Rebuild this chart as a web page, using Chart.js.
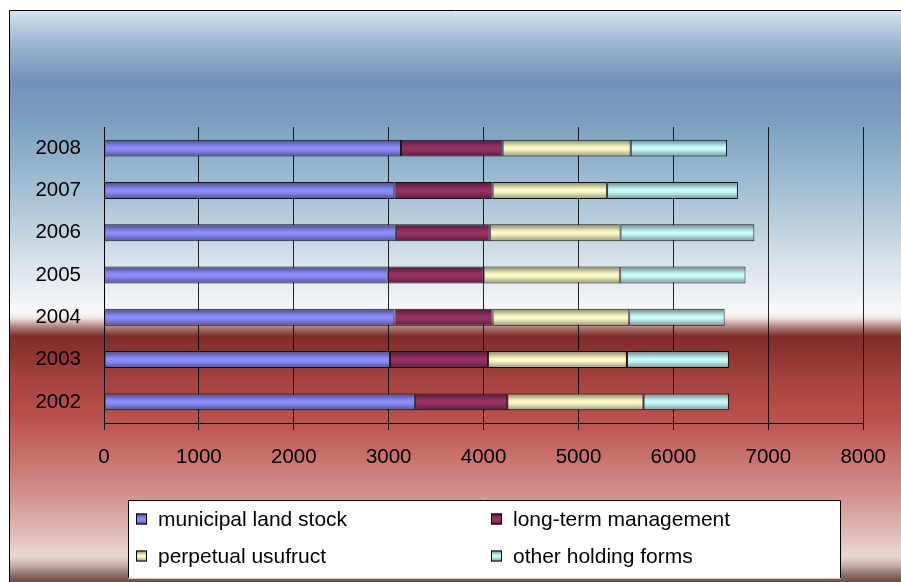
<!DOCTYPE html>
<html>
<head>
<meta charset="utf-8">
<script src="https://cdn.jsdelivr.net/npm/chart.js@4/dist/chart.umd.min.js"></script>
<style>
  html, body { margin: 0; padding: 0; background: #ffffff; }
  #wrap { position: relative; width: 901px; height: 582px; }
  canvas { display: block; }
</style>
</head>
<body>
<div id="wrap"><canvas id="chart" width="901" height="582"></canvas></div>
<script>
// Land holding structure by year (stacked)
const years = ['2002', '2003', '2004', '2005', '2006', '2007', '2008'];
const municipalLandStock = [3280, 3015, 3060, 2990, 3075, 3060, 3130];
const longTermManagement = [970, 1030, 1035, 1010, 990, 1035, 1070];
const perpetualUsufruct = [1435, 1465, 1440, 1440, 1378, 1207, 1350];
const otherHoldingForms = [900, 1075, 1005, 1320, 1410, 1378, 1015];

const seriesNames = ['municipal land stock', 'long-term management', 'perpetual usufruct', 'other holding forms'];
const seriesColors = [[143, 143, 255], [153, 51, 102], [255, 255, 204], [204, 255, 255]];
const xTicks = [0, 1000, 2000, 3000, 4000, 5000, 6000, 7000, 8000];

const FONT = '"Liberation Sans", Arial, Helvetica, sans-serif';
const BAR_PCT = 0.40;

function shade(rgb, k) {
  return 'rgb(' + rgb.map(v => Math.round(v * k)).join(',') + ')';
}

// cylinder-like shading across the bar thickness
function tubeGradient(ctx2d, rgb, top, bottom) {
  const g = ctx2d.createLinearGradient(0, top, 0, bottom);
  g.addColorStop(0.00, shade(rgb, 0.55));
  g.addColorStop(0.18, shade(rgb, 0.70));
  g.addColorStop(0.35, shade(rgb, 0.90));
  g.addColorStop(0.50, shade(rgb, 1.00));
  g.addColorStop(0.65, shade(rgb, 0.92));
  g.addColorStop(0.82, shade(rgb, 0.75));
  g.addColorStop(1.00, shade(rgb, 0.60));
  return g;
}

function barFill(rgb) {
  return function (ctx) {
    const chart = ctx.chart;
    const ys = chart.scales && chart.scales.y;
    if (!ys || ctx.type !== 'data' || !isFinite(ys.height) || ys.height <= 0) {
      return shade(rgb, 1);
    }
    const c = ys.getPixelForValue(ctx.dataIndex);
    const h = ys.height / years.length * BAR_PCT;
    return tubeGradient(chart.ctx, rgb, c - h / 2, c + h / 2);
  };
}

const seriesValues = [municipalLandStock, longTermManagement, perpetualUsufruct, otherHoldingForms];

const datasets = seriesValues.map((vals, i) => ({
  label: seriesNames[i],
  data: vals,
  backgroundColor: barFill(seriesColors[i]),
  borderColor: 'rgba(0,0,0,0.9)',
  borderWidth: 1,
  borderSkipped: false,
  barPercentage: BAR_PCT,
  categoryPercentage: 1.0
}));

// frame background with the blue / white / red banding
const backdrop = {
  id: 'backdrop',
  beforeDraw(chart) {
    const c = chart.ctx;
    const x0 = 9, y0 = 10, x1 = chart.width, y1 = chart.height;
    c.save();
    const g = c.createLinearGradient(0, y0, 0, y1);
    const stops = [
      [10, '#d7e6f1'], [40, '#a0bad2'], [80, '#7690b9'], [110, '#7b9bbe'],
      [135, '#82a6c3'], [200, '#aac4d7'], [260, '#d6e1e9'], [300, '#f1f4f7'],
      [312, '#f8f8fa'], [318, '#f2e6e4'], [326, '#b58a86'], [336, '#7f2d2b'],
      [350, '#8b322f'], [380, '#a5433f'], [415, '#b94f4b'], [450, '#c66b67'],
      [500, '#d59693'], [540, '#e2c3be'], [556, '#ead9d4'], [566, '#c4aaa5'],
      [575, '#8d6c67'], [582, '#6c4a46']
    ];
    stops.forEach(([y, col]) => g.addColorStop((y - y0) / (y1 - y0), col));
    c.fillStyle = g;
    c.fillRect(x0, y0, x1 - x0, y1 - y0);
    c.strokeStyle = '#000000';
    c.lineWidth = 1;
    c.beginPath();
    c.moveTo(x0 + 0.5, y1);
    c.lineTo(x0 + 0.5, y0 + 0.5);
    c.lineTo(x1, y0 + 0.5);
    c.stroke();
    c.restore();
  }
};

// boxed two-column key below the plot
const keyBox = {
  id: 'keyBox',
  afterDraw(chart) {
    const c = chart.ctx;
    const bx = 128, by = 500, bw = 713, bh = 79;
    c.save();
    c.fillStyle = '#ffffff';
    c.fillRect(bx, by, bw, bh);
    c.strokeStyle = '#000000';
    c.lineWidth = 1;
    c.beginPath();
    c.moveTo(bx + 0.5, by + bh);
    c.lineTo(bx + 0.5, by + 0.5);
    c.lineTo(bx + bw - 0.5, by + 0.5);
    c.lineTo(bx + bw - 0.5, by + bh);
    c.stroke();
    c.strokeStyle = '#c8c8c8';
    c.beginPath();
    c.moveTo(bx, by + bh - 0.5);
    c.lineTo(bx + bw, by + bh - 0.5);
    c.stroke();

    const cols = [136, 491];
    const rows = [519, 556];
    c.font = '21px ' + FONT;
    c.textBaseline = 'middle';
    c.textAlign = 'left';
    chart.data.datasets.forEach((ds, i) => {
      const x = cols[i % 2];
      const y = rows[Math.floor(i / 2)];
      const s = 11;
      c.fillStyle = tubeGradient(c, seriesColors[i], y - s / 2, y + s / 2);
      c.fillRect(x, y - s / 2, s, s);
      c.strokeStyle = '#000000';
      c.strokeRect(x + 0.5, y - s / 2 + 0.5, s - 1, s - 1);
      c.fillStyle = '#000000';
      c.fillText(ds.label, x + 22, y + 1);
    });
    c.restore();
  }
};

new Chart(document.getElementById('chart'), {
  type: 'bar',
  data: { labels: years, datasets },
  options: {
    responsive: false,
    animation: false,
    indexAxis: 'y',
    layout: { padding: { left: 0, top: 127, right: 35, bottom: 0 } },
    plugins: {
      legend: { display: false },
      tooltip: { enabled: false },
      title: { display: false }
    },
    scales: {
      x: {
        stacked: true,
        min: 0,
        max: 8000,
        afterBuildTicks(scale) {
          scale.ticks = xTicks.map(v => ({ value: v }));
        },
        afterFit(scale) { scale.height = 159; },
        grid: {
          color: 'rgba(0,0,0,0.85)',
          lineWidth: 1,
          drawTicks: true,
          tickLength: 7,
          tickColor: 'rgba(0,0,0,0.85)'
        },
        border: { display: true, color: '#000000', width: 1 },
        ticks: {
          color: '#000000',
          padding: 15,
          maxRotation: 0,
          autoSkip: false,
          font: { family: FONT, size: 20.5 },
          callback: v => String(v)
        }
      },
      y: {
        stacked: true,
        reverse: true,
        afterFit(scale) { scale.width = 104; },
        grid: { display: true, drawOnChartArea: false, drawTicks: false },
        border: { display: true, color: '#000000', width: 1 },
        ticks: {
          color: '#000000',
          padding: 23,
          font: { family: FONT, size: 20.5 }
        }
      }
    }
  },
  plugins: [backdrop, keyBox]
});
</script>
</body>
</html>
